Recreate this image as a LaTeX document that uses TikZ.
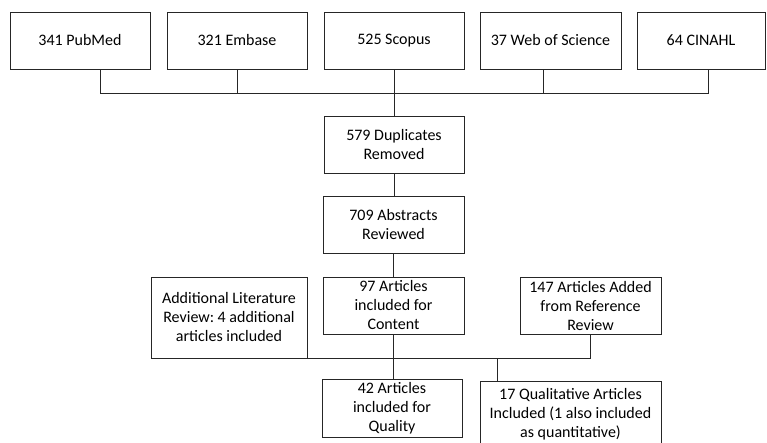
\documentclass[tikz,border=0pt]{standalone}
\usepackage{fontspec}
\setmainfont{Carlito}
\frenchspacing
\tikzset{box/.style={draw=black!85,line width=0.9pt,align=center,inner sep=0pt,font=\fontsize{16}{19}\selectfont}}
\begin{document}
\begin{tikzpicture}[line cap=rect,line join=miter,x=1pt,y=-1pt]
\useasboundingbox (0,0) rectangle (767,443);
\clip (0,0) rectangle (767,443);
\node[box,minimum width=140,minimum height=57] (pubmed) at (80,40.5) {341 PubMed};
\node[box,minimum width=140,minimum height=57] (embase) at (237,40.5) {321 Embase};
\node[box,minimum width=140,minimum height=57] (scopus) at (394,40.5) {525 Scopus};
\node[box,minimum width=141,minimum height=57] (wos) at (550.5,40.5) {37 Web of Science};
\node[box,minimum width=128,minimum height=57] (cinahl) at (701,40.5) {64 CINAHL};
\node[box,minimum width=140,minimum height=57] (dup) at (394,144.5) {579 Duplicates\\Removed};
\node[box,minimum width=141,minimum height=57] (abs) at (393.5,224.5) {709 Abstracts\\Reviewed};
\node[box,minimum width=141,minimum height=57] (content) at (393.5,305.5) {97 Articles\\included for\\Content};
\node[box,minimum width=156,minimum height=81] (lit) at (229,317.5) {Additional Literature\\Review: 4 additional\\articles included};
\node[box,minimum width=141,minimum height=57] (ref) at (590.5,305.5) {147 Articles Added\\from Reference\\Review};
\node[box,minimum width=140,minimum height=58] (quality) at (392,408) {42 Articles\\included for\\Quality};
\node[box,minimum width=181,minimum height=66] (qualit) at (570.5,414) {17 Qualitative Articles\\Included (1 also included\\as quantitative)};
\coordinate (busl) at (100,93);
\coordinate (busr) at (708,93);
\coordinate (qtap) at (497,358);
\draw[black!85,line width=0.9pt] (busl |- pubmed.south) -- (busl) -- (busr) -- (busr |- cinahl.south);
\draw[black!85,line width=0.9pt] (embase.south) -- (embase.south |- busl);
\draw[black!85,line width=0.9pt] ([xshift=-7pt]wos.south) -- ([xshift=-7pt]wos.south |- busl);
\draw[black!85,line width=0.9pt] (scopus.south) -- (dup.north);
\draw[black!85,line width=0.9pt] (dup.south) -- (abs.north -| dup.south);
\draw[black!85,line width=0.9pt] (abs.south) -- (content.north);
\draw[black!85,line width=0.9pt] (lit.south east) -- (ref.south |- lit.south) -- (ref.south);
\draw[black!85,line width=0.9pt] (content.south) -- (content.south |- quality.north);
\draw[black!85,line width=0.9pt] (qtap) -- (qtap |- qualit.north);
\end{tikzpicture}
\end{document}
